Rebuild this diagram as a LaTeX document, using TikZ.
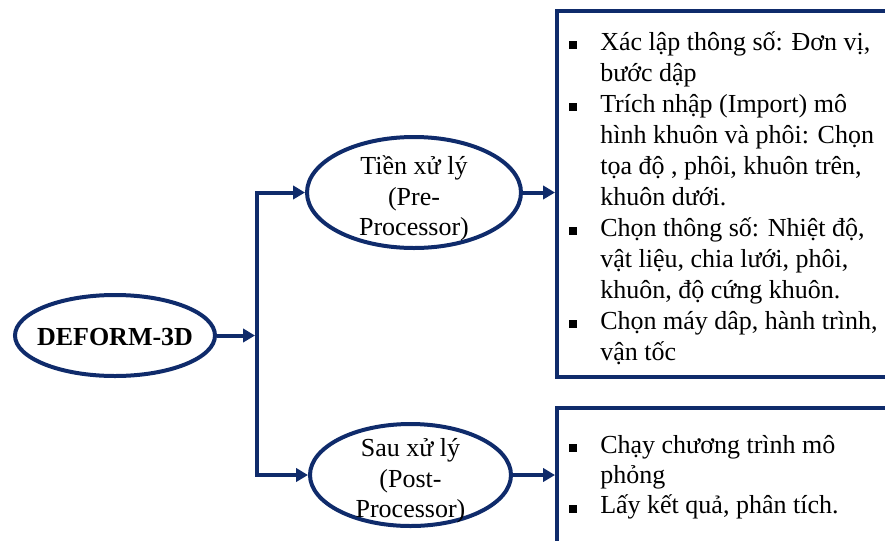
\documentclass[tikz,border=0pt]{standalone}
\usepackage{fontspec}
\setmainfont{Liberation Serif}
\usetikzlibrary{shapes.geometric,arrows.meta}
\definecolor{navy}{HTML}{0F2B6B}
\newcommand{\blt}{\makebox[23.25pt][l]{\rule[0.75pt]{6pt}{6pt}}}
\newcommand{\cnt}{\makebox[23.25pt][l]{}}
\newcommand{\tallstrut}{\rule{0pt}{20pt}}
\begin{document}
\begin{tikzpicture}[x=0.75pt,y=-0.75pt,
  oval/.style={ellipse, draw=navy, line width=3pt, inner sep=0pt},
  ovaltext/.style={inner sep=0pt, align=center, font=\fontsize{19.5}{23}\selectfont},
  listbox/.style={rectangle, draw=navy, line width=3pt, anchor=north west, inner sep=0pt},
  listtext/.style={anchor=north west, inner sep=0pt, align=left,
    font=\fontsize{19.5}{23.25}\selectfont},
  conn/.style={draw=navy, line width=3pt, line join=miter},
  arr/.style={conn, -{Triangle[length=9pt,width=10pt]}}]
\useasboundingbox (0,0) rectangle (885,540);
\clip (0,0) rectangle (885,540);

% ellipses
\node[oval, minimum width=150pt, minimum height=60.75pt] (deform) at (115,335.5) {};
\node[oval, minimum width=160.5pt, minimum height=83.25pt] (pre) at (414,192.5) {};
\node[oval, minimum width=150.75pt, minimum height=76.5pt] (post) at (410.5,475) {};

\node[ovaltext, font=\fontsize{19.5}{23}\selectfont\bfseries] (deformtext) at (115,337) {DEFORM-3D};
\node[ovaltext] (pretext) at (414,198.5) {Tiền xử lý\\(Pre-\\Processor)};
\node[ovaltext] (posttext) at (410.5,481) {Sau xử lý\\(Post-\\Processor)};

% boxes
\node[listbox, minimum width=261pt, minimum height=274.5pt] (prebox) at (555,9) {};
\node[listbox, minimum width=261pt, minimum height=114pt] (postbox) at (555,406) {};

% texts
\node[listtext] (prelist) at (569,23.3) {%
\blt\tallstrut Xác lập thông số: Đơn vị,\\
\cnt bước dập\\
\blt Trích nhập (Import) mô\\
\cnt hình khuôn và phôi: Chọn\\
\cnt tọa độ , phôi, khuôn trên,\\
\cnt khuôn dưới.\\
\blt Chọn thông số: Nhiệt độ,\\
\cnt vật liệu, chia lưới, phôi,\\
\cnt khuôn, độ cứng khuôn.\\
\blt Chọn máy dâp, hành trình,\\
\cnt vận tốc};
\node[listtext, font=\fontsize{19.5}{22.75}\selectfont] (postlist) at (569,426.3) {%
\blt\tallstrut Chạy chương trình mô\\
\cnt phỏng\\
\blt Lấy kết quả, phân tích.};

% connectors
\coordinate (jt) at (257,192.5);
\coordinate (jb) at (257,475);
\coordinate (jm) at (255,335.5);
\draw[arr] (deform.east) -- (jm);
\draw[arr] (jb) -- (jt) -- (pre.west);
\draw[arr] (jt) -- (jb) -- (post.west);
\draw[arr] (pre.east) -- (prebox.west |- pre.east);
\draw[arr] (post.east) -- (postbox.west |- post.east);
\end{tikzpicture}
\end{document}
